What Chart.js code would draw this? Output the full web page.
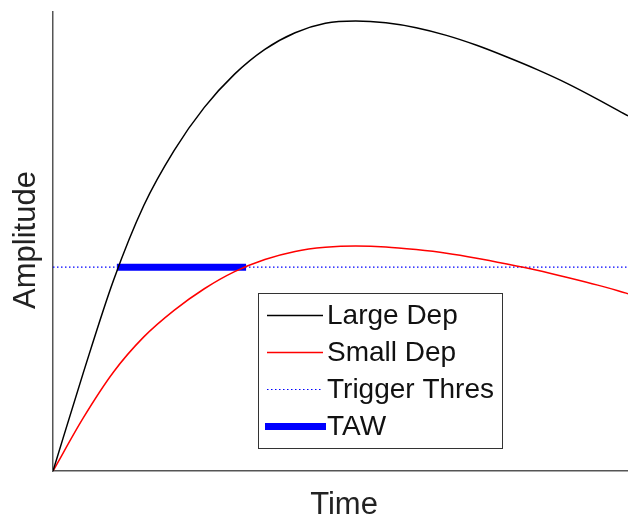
<!DOCTYPE html>
<html>
<head>
<meta charset="utf-8">
<script src="https://cdn.jsdelivr.net/npm/chart.js@4"></script>
<style>
  html, body { margin: 0; padding: 0; background: #fff; }
  #wrap { width: 628px; height: 514px; }
</style>
</head>
<body>
<div id="wrap"><canvas id="c" width="628" height="514"></canvas></div>
<script>
// Sample times (arbitrary units) and response amplitudes
const timePts  = [0, 1, 2, 3, 4, 5, 6, 7, 8, 9, 10, 11, 12, 13, 14, 15, 16, 17, 18, 19];
const largeDep = [0, 0.218, 0.424, 0.59, 0.712, 0.808, 0.882, 0.937, 0.974, 0.995, 1.0, 0.996, 0.985, 0.968, 0.946, 0.92, 0.892, 0.861, 0.826, 0.789];
const smallDep = [0, 0.118, 0.22, 0.298, 0.357, 0.405, 0.443, 0.47, 0.488, 0.497, 0.5, 0.498, 0.492, 0.484, 0.473, 0.46, 0.446, 0.43, 0.413, 0.394];
const triggerLevel = 0.453;
const thresTimes   = [0, 19];
const tawTimes     = [2.11, 6.38];   // where the two responses cross the trigger level

const seriesNames = ['Large Dep', 'Small Dep', 'Trigger Thres', 'TAW'];

const toPts = (xs, ys) => xs.map((x, i) => ({ x: x, y: ys[i] }));

const FONT = '"Liberation Sans", Arial, Helvetica, sans-serif';

// Legend box drawn inside the plot area
const boxLegend = {
  id: 'boxLegend',
  afterDraw(chart) {
    const ctx = chart.ctx;
    const bx = 258.5, by = 293.5, bw = 244, bh = 155;
    ctx.save();
    ctx.fillStyle = '#fff';
    ctx.fillRect(bx, by, bw, bh);
    ctx.strokeStyle = '#333';
    ctx.lineWidth = 1;
    ctx.strokeRect(bx, by, bw, bh);
    const rows = [315.5, 352.5, 389.5, 426.5];
    chart.data.datasets.forEach((ds, i) => {
      const y = rows[i];
      ctx.beginPath();
      ctx.strokeStyle = ds.borderColor;
      ctx.lineWidth = ds.borderWidth;
      ctx.setLineDash(ds.borderDash || []);
      const x0 = ds.borderWidth > 3 ? 265 : 267;
      const x1 = ds.borderWidth > 3 ? 326 : 323;
      ctx.moveTo(x0, y);
      ctx.lineTo(x1, y);
      ctx.stroke();
      ctx.setLineDash([]);
      ctx.fillStyle = '#111';
      ctx.font = '28px ' + FONT;
      ctx.textBaseline = 'middle';
      ctx.textAlign = 'left';
      ctx.fillText(ds.label, 327, y + 1);
    });
    ctx.restore();
  }
};

// Axis titles
const axisTitles = {
  id: 'axisTitles',
  afterDraw(chart) {
    const ctx = chart.ctx;
    ctx.save();
    ctx.fillStyle = '#222';
    ctx.font = '31px ' + FONT;
    ctx.textAlign = 'center';
    ctx.textBaseline = 'alphabetic';
    ctx.fillText('Time', 344, 514);
    ctx.translate(35, 240);
    ctx.rotate(-Math.PI / 2);
    ctx.fillText('Amplitude', 0, 0);
    ctx.restore();
  }
};

const bareAxis = (min, max) => ({
  type: 'linear',
  min: min,
  max: max,
  ticks: { display: false, padding: 0 },
  grid: { display: false, drawTicks: false, tickLength: 0 },
  border: { display: true, color: '#555', width: 1.5 }
});

new Chart(document.getElementById('c'), {
  type: 'line',
  data: {
    datasets: [
      {
        label: seriesNames[0],
        data: toPts(timePts, largeDep),
        borderColor: '#000000',
        borderWidth: 1.5,
        pointRadius: 0,
        cubicInterpolationMode: 'monotone',
        fill: false
      },
      {
        label: seriesNames[1],
        data: toPts(timePts, smallDep),
        borderColor: '#ff0000',
        borderWidth: 1.5,
        pointRadius: 0,
        cubicInterpolationMode: 'monotone',
        fill: false
      },
      {
        label: seriesNames[2],
        data: toPts(thresTimes, [triggerLevel, triggerLevel]),
        borderColor: '#0000ff',
        borderWidth: 1.2,
        borderDash: [1.5, 2.5],
        pointRadius: 0,
        fill: false
      },
      {
        label: seriesNames[3],
        data: toPts(tawTimes, [triggerLevel, triggerLevel]),
        borderColor: '#0000ff',
        borderWidth: 7,
        borderCapStyle: 'butt',
        pointRadius: 0,
        fill: false
      }
    ]
  },
  options: {
    responsive: false,
    animation: false,
    layout: { padding: { left: 53, top: 12, right: 0, bottom: 43 } },
    plugins: {
      legend: { display: false },
      tooltip: { enabled: false },
      title: { display: false }
    },
    scales: {
      x: bareAxis(0, 19),
      y: bareAxis(0, 1.02)
    }
  },
  plugins: [boxLegend, axisTitles]
});
</script>
</body>
</html>
